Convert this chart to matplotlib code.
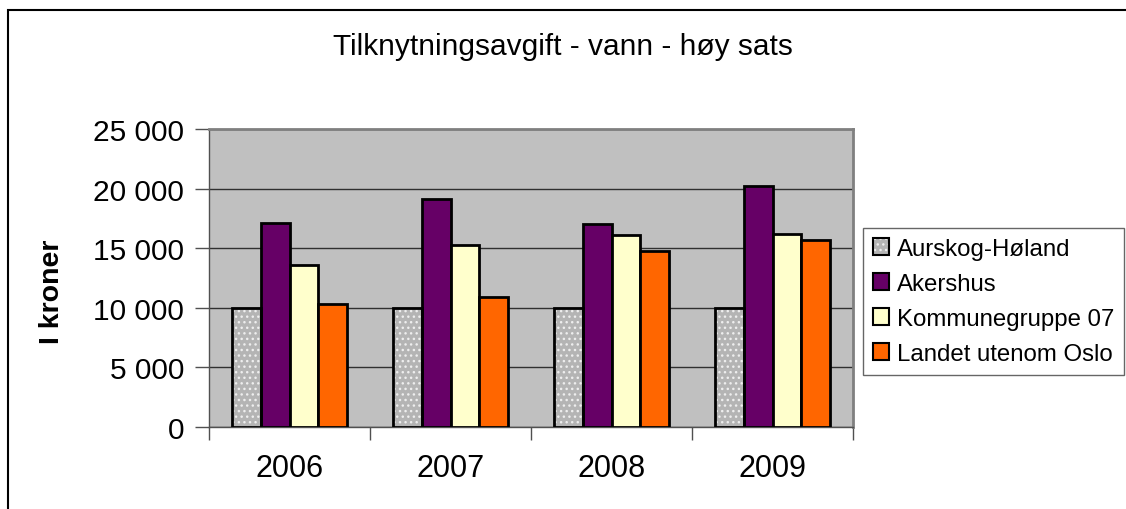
import numpy as np
import matplotlib
matplotlib.use("Agg")
import matplotlib.pyplot as plt
from matplotlib.patches import Patch, Rectangle
from matplotlib.ticker import FuncFormatter

years = ["2006", "2007", "2008", "2009"]
series_names = ["Aurskog-Høland", "Akershus", "Kommunegruppe 07", "Landet utenom Oslo"]
aurskog = [10000, 10000, 10000, 10000]
akershus = [17100, 19100, 17000, 20200]
kommunegruppe = [13600, 15300, 16100, 16200]
landet = [10300, 10900, 14800, 15700]
y_ticks = [0, 5000, 10000, 15000, 20000, 25000]

colors = ["#B4B4B4", "#660066", "#FFFFCC", "#FF6600"]
values = [aurskog, akershus, kommunegruppe, landet]

plt.rcParams["font.family"] = ["Liberation Sans", "DejaVu Sans"]

fig = plt.figure(figsize=(11.26, 5.10), dpi=100)
ax = fig.add_axes([209 / 1126, 1 - 428 / 510, (853 - 209) / 1126, (428 - 130) / 510])

# outer chart border (only top and left visible in the picture)
fig.patches.append(Rectangle((8 / 1126, -0.1), 1.2, 1 - 11 / 510 + 0.1,
                             transform=fig.transFigure, fill=False,
                             edgecolor="black", linewidth=1.5, zorder=0))

x = np.arange(len(years))
width = 0.18
offsets = (np.arange(4) - 1.5) * width

handles = []
for i, (name, vals, col) in enumerate(zip(series_names, values, colors)):
    if i == 0:
        ax.bar(x + offsets[i], vals, width, color=col, edgecolor="#EEEEEE",
               hatch="...", linewidth=0, zorder=3)
        ax.bar(x + offsets[i], vals, width, fill=False, edgecolor="black",
               linewidth=2, zorder=4)
        h = (Patch(facecolor=col, edgecolor="#EEEEEE", hatch="...", linewidth=0),
             Patch(fill=False, edgecolor="black", linewidth=1.5))
    else:
        ax.bar(x + offsets[i], vals, width, color=col, edgecolor="black",
               linewidth=2, zorder=3)
        h = Patch(facecolor=col, edgecolor="black", linewidth=1.5)
    handles.append(h)

ax.set_facecolor("#C0C0C0")
ax.set_xlim(-0.5, 3.5)
ax.set_ylim(0, 25000)
ax.set_yticks(y_ticks)
ax.yaxis.set_major_formatter(FuncFormatter(lambda v, p: f"{int(v):,}".replace(",", " ")))
ax.grid(axis="y", color="#303030", linewidth=1, zorder=1)
ax.set_axisbelow(True)

ax.set_xticks(x)
ax.set_xticklabels(years)
ax.set_xticks(np.arange(-0.5, 4, 1), minor=True)
ax.tick_params(axis="x", which="major", length=0, pad=19, labelsize=22)
ax.tick_params(axis="x", which="minor", length=9, width=1, color="#505050", direction="out")
ax.tick_params(axis="y", length=10, width=1, color="#505050", direction="out", pad=8, labelsize=21.5)

for side in ["top", "right"]:
    ax.spines[side].set_color("#808080")
    ax.spines[side].set_linewidth(2)
for side in ["left", "bottom"]:
    ax.spines[side].set_color("#505050")
    ax.spines[side].set_linewidth(1)

fig.text(52 / 1126, 1 - 292 / 510, "I kroner", rotation=90, ha="center", va="center",
         fontsize=20.5, fontweight="bold")

fig.text(563 / 1126, 1 - 47 / 510, "Tilknytningsavgift - vann - høy sats",
         ha="center", va="center", fontsize=21.5)

leg = fig.legend(handles, series_names, loc="upper left",
                 bbox_to_anchor=(863 / 1126, 1 - 229 / 510),
                 fontsize=17.3, frameon=True, fancybox=False, edgecolor="#404040",
                 handlelength=0.7, handleheight=0.7, handletextpad=0.3,
                 labelspacing=0.55, borderpad=0.4, borderaxespad=0)
leg.get_frame().set_linewidth(1)

fig.savefig("out.png", dpi=100)
